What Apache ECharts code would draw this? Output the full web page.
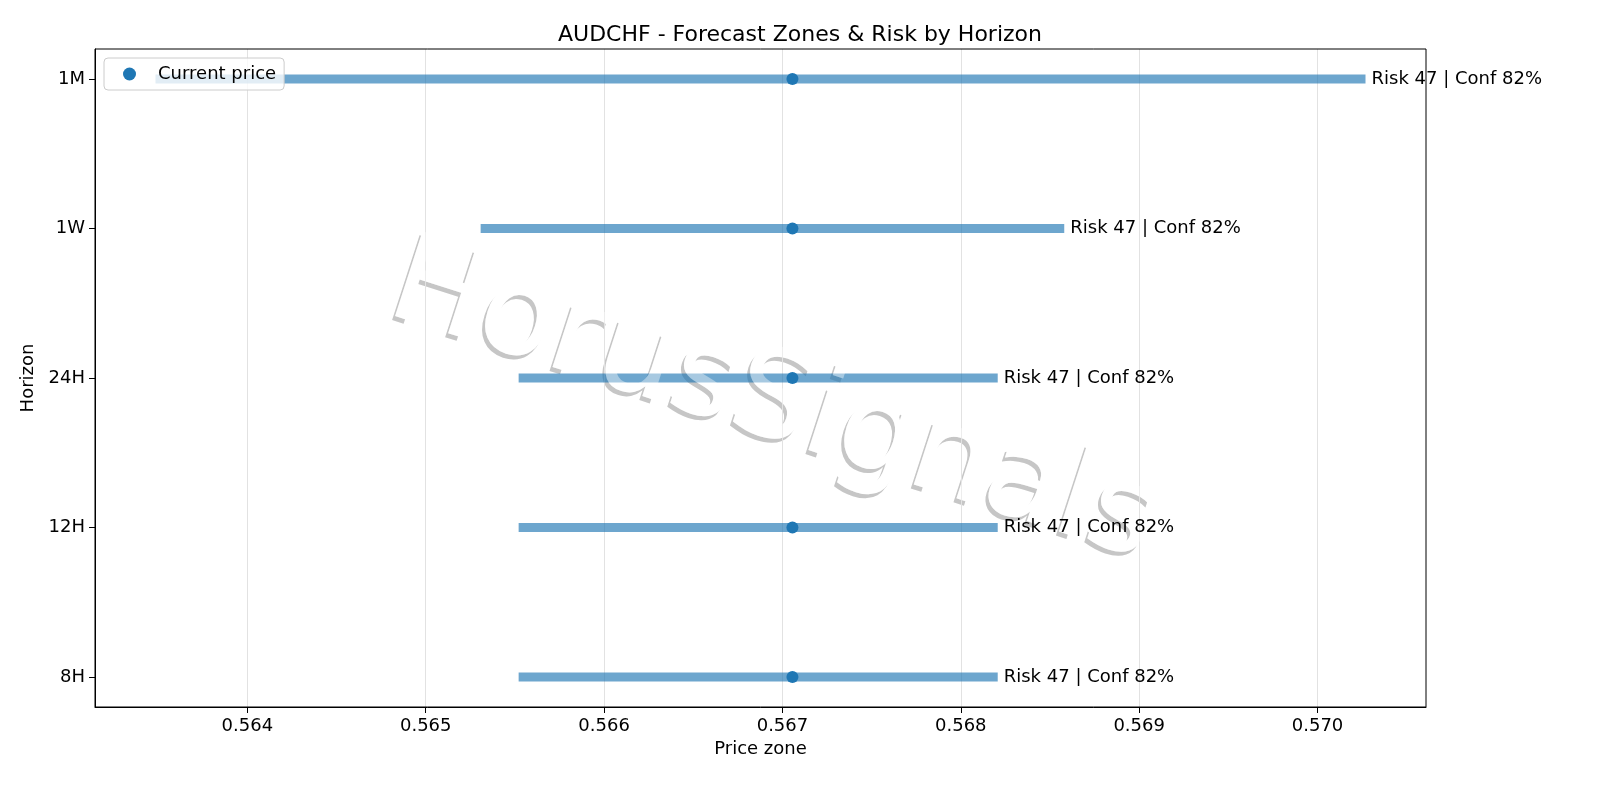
<!DOCTYPE html>
<html>
<head>
<meta charset="utf-8">
<script src="https://cdn.jsdelivr.net/npm/echarts@6/dist/echarts.min.js"></script>
<style>html,body{margin:0;padding:0;background:#fff}#c{width:1600px;height:800px}</style>
</head>
<body>
<div id="c"></div>
<script>
const horizons = ['8H', '12H', '24H', '1W', '1M'];
const zoneLow  = [0.565521, 0.565521, 0.565521, 0.565308, 0.563485];
const zoneHigh = [0.568207, 0.568207, 0.568207, 0.568580, 0.570269];
const currentPrice = [0.567056, 0.567056, 0.567056, 0.567056, 0.567056];
const riskScore = [47, 47, 47, 47, 47];
const confPct = [82, 82, 82, 82, 82];
const xTicks = [0.564, 0.565, 0.566, 0.567, 0.568, 0.569, 0.570];
const yTicks = [0, 1, 2, 3, 4];

const FONT = 'DejaVu Sans';
const lo = Math.min(...zoneLow), hi = Math.max(...zoneHigh);
const pad = (hi - lo) * 0.05;

const zoneData = horizons.map((h, i) => [zoneLow[i], zoneHigh[i], i, riskScore[i], confPct[i]]);
const pointData = horizons.map((h, i) => [currentPrice[i], i]);

const WM_X = 772, WM_Y = 405, WM_ROT = -18 * Math.PI / 180;
const WM_FONT = '122px "DejaVu Sans"';

function wm(dx, dy, z, fill) {
  return {
    type: 'text', x: WM_X + dx, y: WM_Y + dy, rotation: WM_ROT, z: z, silent: true,
    style: {text: 'HorusSignals', font: WM_FONT, align: 'center', verticalAlign: 'middle', fill: fill}
  };
}

const chart = echarts.init(document.getElementById('c'), null, {renderer: 'canvas'});
chart.setOption({
  animation: false,
  backgroundColor: '#fff',
  textStyle: {fontFamily: FONT},
  title: {
    text: 'AUDCHF - Forecast Zones & Risk by Horizon',
    left: 'center', top: 19,
    textStyle: {fontFamily: FONT, fontSize: 22, fontWeight: 'normal', color: '#000'}
  },
  grid: {left: 95, right: 174, top: 49, bottom: 93, show: true, borderColor: '#000', borderWidth: 1, containLabel: false, z: 3},
  legend: {
    left: 104, top: 58,
    data: [{name: 'Current price', icon: 'circle'}],
    itemWidth: 13, itemHeight: 13,
    padding: [7, 8, 7, 19],
    borderColor: '#cccccc', borderWidth: 1, borderRadius: 4,
    backgroundColor: 'rgba(255,255,255,0.8)',
    textStyle: {fontFamily: FONT, fontSize: 18, color: '#000', padding: [0, 0, 0, 17]},
    z: 20
  },
  xAxis: {
    type: 'value', min: lo - pad, max: hi + pad, z: 1.7,
    name: 'Price zone', nameLocation: 'middle', nameGap: 33,
    nameTextStyle: {fontFamily: FONT, fontSize: 18, color: '#000'},
    axisLine: {show: true, onZero: false, lineStyle: {color: '#000', width: 1}},
    axisTick: {show: true, inside: false, length: 6, lineStyle: {color: '#000'}, customValues: xTicks},
    axisLabel: {fontFamily: FONT, fontSize: 18, color: '#000', margin: 10, customValues: xTicks,
      formatter: v => v.toFixed(3)},
    splitLine: {show: true, lineStyle: {color: '#e2e2e2', width: 1}}
  },
  yAxis: {
    type: 'value', min: -0.2, max: 4.2, z: 1.7,
    name: 'Horizon', nameLocation: 'middle', nameGap: 57, nameRotate: 90,
    nameTextStyle: {fontFamily: FONT, fontSize: 18, color: '#000'},
    axisLine: {show: true, onZero: false, lineStyle: {color: '#000', width: 1}},
    axisTick: {show: true, inside: false, length: 6, lineStyle: {color: '#000'}, customValues: yTicks},
    axisLabel: {fontFamily: FONT, fontSize: 18, color: '#000', margin: 10, customValues: yTicks,
      formatter: v => horizons[Math.round(v)]},
    splitLine: {show: false}
  },
  series: [
    {
      name: 'Zones', type: 'custom', z: 2,
      data: zoneData,
      renderItem: function (params, api) {
        const p1 = api.coord([api.value(0), api.value(2)]);
        const p2 = api.coord([api.value(1), api.value(2)]);
        return {type: 'line', shape: {x1: p1[0], y1: p1[1], x2: p2[0], y2: p2[1]},
                style: {stroke: '#1f77b4', lineWidth: 9, opacity: 0.65}};
      },
      encode: {x: [0, 1], y: 2}
    },
    {
      name: 'Current price', type: 'scatter', z: 4,
      symbol: 'circle', symbolSize: 12,
      itemStyle: {color: '#1f77b4', opacity: 1},
      data: pointData
    },
    {
      name: 'Labels', type: 'custom', z: 5,
      data: zoneData,
      renderItem: function (params, api) {
        const p2 = api.coord([api.value(1), api.value(2)]);
        return {type: 'text', x: p2[0] + 6, y: p2[1],
                style: {text: 'Risk ' + api.value(3) + ' | Conf ' + api.value(4) + '%',
                        fill: '#000', font: '18px "DejaVu Sans"', align: 'left', verticalAlign: 'middle'}};
      },
      encode: {x: 1, y: 2}
    }
  ],
  graphic: [
    wm(-3, 4, 1, '#c6c6c6'),
    wm(0, 0, 1.5, '#ffffff'),
    wm(0, 0, 3, 'rgba(255,255,255,0.4)')
  ]
});
</script>
</body>
</html>
